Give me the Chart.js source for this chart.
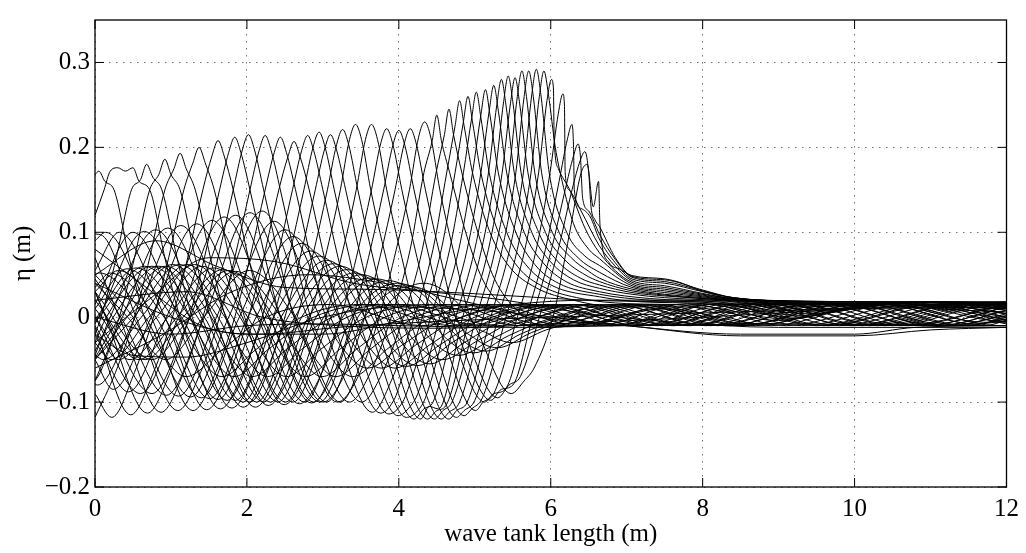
<!DOCTYPE html>
<html>
<head>
<meta charset="utf-8">
<script src="https://cdn.jsdelivr.net/npm/chart.js@4/dist/chart.umd.min.js"></script>
<style>
  html, body { margin: 0; padding: 0; background: #fff; }
  #wrap { width: 1026px; height: 553px; }
</style>
</head>
<body>
<div id="wrap"><canvas id="tank-chart" width="1026" height="553"></canvas></div>
<script>
// axis text
const xTitle = 'wave tank length (m)';
const yTitle = '\u03B7 (m)';
const xTicks = [0, 2, 4, 6, 8, 10, 12];
const yTicks = [-0.2, -0.1, 0, 0.1, 0.2, 0.3];

// surface profiles [x (m), eta (m)], one per snapshot
const shoalingProfiles = [
  [[0,.168],[.05,.172],[.13,.16],[.25,.15],[.45,.07],[.65,0],[.9,-.045],[1.2,-.07],[1.65,-.04],[2.25,0],[3.1,.015],[4.3,-.01],[5.5,.014],[6.8,-.01],[8.2,.016],[9.6,-.01],[11,.015],[12,.004]],
  [[0,.12],[.12,.15],[.2,.172],[.3,.176],[.4,.172],[.5,.176],[.58,.16],[.72,.15],[.92,.07],[1.12,0],[1.37,-.045],[1.67,-.07],[2.12,-.038],[2.72,0],[3.5,.015],[4.7,-.01],[5.9,.014],[7.2,-.01],[8.6,.016],[10,-.01],[11.4,.015],[12,.01]],
  [[0,-.02],[.08,0],[.28,.07],[.48,.15],[.6,.162],[.68,.18],[.76,.165],[.88,.15],[1.08,.07],[1.28,0],[1.53,-.045],[1.83,-.07],[2.28,-.038],[2.88,0],[3.7,.015],[4.9,-.01],[6.1,.014],[7.4,-.01],[8.8,.016],[10.2,-.01],[11.6,.015],[12,.012]],
  [[0,-.075],[.07,-.065],[.32,0],[.52,.07],[.72,.15],[.84,.168],[.92,.186],[1,.168],[1.12,.15],[1.32,.07],[1.52,0],[1.77,-.045],[2.07,-.07],[2.52,-.038],[3.12,0],[3.9,.015],[5.1,-.01],[6.3,.015],[7.6,-.01],[9,.016],[10.4,-.01],[11.8,.015],[12,.014]],
  [[0,-.118],[.27,-.065],[.52,0],[.72,.07],[.92,.15],[1.04,.175],[1.12,.193],[1.2,.175],[1.32,.15],[1.52,.07],[1.72,0],[1.97,-.045],[2.27,-.07],[2.72,-.038],[3.32,0],[4.1,.015],[5.3,-.01],[6.5,.015],[7.8,-.01],[9.2,.016],[10.6,-.01],[12,.015]],
  [[0,-.09],[.22,-.118],[.52,-.065],[.77,0],[.97,.07],[1.17,.15],[1.29,.182],[1.37,.2],[1.45,.182],[1.57,.15],[1.77,.07],[1.97,0],[2.22,-.045],[2.52,-.07],[2.97,-.038],[3.57,0],[4.4,.015],[5.6,-.01],[6.8,.015],[8.1,-.01],[9.5,.016],[10.9,-.01],[12,.012]],
  [[0,-.012],[.47,-.115],[.77,-.065],[1.02,0],[1.22,.07],[1.42,.15],[1.54,.19],[1.62,.208],[1.7,.19],[1.82,.15],[2.02,.07],[2.22,0],[2.47,-.045],[2.77,-.07],[3.22,-.038],[3.82,0],[4.6,.015],[5.8,-.01],[7,.015],[8.3,-.01],[9.7,.016],[11.1,-.01],[12,.008]],
  [[0,.03],[.14,0],[.69,-.113],[.99,-.065],[1.24,0],[1.44,.07],[1.64,.15],[1.76,.194],[1.84,.212],[1.92,.194],[2.04,.15],[2.24,.07],[2.44,0],[2.69,-.045],[2.99,-.07],[3.44,-.038],[4.04,0],[4.8,.015],[6,-.01],[7.2,.015],[8.5,-.01],[9.9,.016],[11.3,-.01],[12,.004]],
  [[0,.07],[.32,0],[.87,-.112],[1.17,-.065],[1.42,0],[1.62,.07],[1.82,.15],[1.94,.197],[2.02,.215],[2.1,.197],[2.22,.15],[2.42,.07],[2.62,0],[2.87,-.045],[3.17,-.07],[3.62,-.038],[4.22,0],[5,.015],[6.2,-.01],[7.4,.015],[8.7,-.01],[10.1,.016],[11.5,-.01],[12,0]],
  [[0,.098],[.1,.096],[.54,0],[1.09,-.11],[1.39,-.065],[1.64,0],[1.84,.07],[2.04,.15],[2.16,.196],[2.24,.214],[2.32,.196],[2.44,.15],[2.64,.07],[2.84,0],[3.09,-.045],[3.39,-.07],[3.84,-.038],[4.44,0],[5.2,.015],[6.4,-.01],[7.6,.015],[8.9,-.01],[10.3,.016],[11.7,-.01],[12,-.004]],
  [[0,.09],[.14,.1],[.74,0],[1.29,-.11],[1.59,-.065],[1.84,0],[2.04,.07],[2.24,.15],[2.36,.194],[2.44,.212],[2.52,.194],[2.64,.15],[2.84,.07],[3.04,0],[3.29,-.04],[3.59,-.06],[4.04,-.033],[4.64,0],[5.4,.015],[6.6,-.01],[7.8,.016],[9.1,-.01],[10.5,.015],[11.9,-.01],[12,-.01]],
  [[0,.055],[.32,.1],[.92,0],[1.47,-.109],[1.77,-.065],[2.02,0],[2.22,.07],[2.42,.15],[2.54,.189],[2.62,.207],[2.7,.189],[2.82,.15],[3.02,.07],[3.22,0],[3.47,-.04],[3.77,-.06],[4.22,-.033],[4.82,0],[5.6,.015],[6.8,-.01],[8,.016],[9.3,-.01],[10.7,.015],[12,-.008]],
  [[0,.015],[.5,.1],[1.1,0],[1.65,-.108],[1.95,-.065],[2.2,0],[2.4,.07],[2.6,.15],[2.72,.196],[2.8,.214],[2.88,.196],[3,.15],[3.2,.07],[3.4,0],[3.65,-.04],[3.95,-.06],[4.4,-.033],[5,0],[5.8,.015],[7,-.01],[8.2,.016],[9.5,-.01],[10.9,.015],[12,-.006]],
  [[0,-.008],[.05,0],[.65,.101],[1.25,0],[1.8,-.107],[2.1,-.065],[2.35,0],[2.55,.07],[2.75,.15],[2.87,.2],[2.95,.218],[3.03,.2],[3.15,.15],[3.35,.07],[3.55,0],[3.8,-.04],[4.1,-.058],[4.55,-.032],[5.15,0],[5.95,.015],[7.15,-.01],[8.35,.016],[9.65,-.01],[11.05,.015],[12,-.004]],
  [[0,-.045],[.2,0],[.8,.103],[1.4,0],[1.95,-.106],[2.25,-.065],[2.5,0],[2.7,.07],[2.9,.15],[3.02,.197],[3.1,.215],[3.18,.197],[3.3,.15],[3.5,.07],[3.7,0],[3.95,-.04],[4.25,-.057],[4.7,-.03],[5.3,0],[6.1,.015],[7.3,-.01],[8.5,.016],[9.8,-.01],[11.2,.015],[12,0]],
  [[0,-.075],[.36,0],[.96,.105],[1.56,0],[2.11,-.106],[2.41,-.065],[2.66,0],[2.86,.07],[3.06,.15],[3.18,.203],[3.26,.221],[3.34,.203],[3.46,.15],[3.66,.07],[3.86,0],[4.11,-.038],[4.41,-.055],[4.86,-.03],[5.46,0],[6.26,.015],[7.46,-.01],[8.66,.016],[9.96,-.01],[11.36,.015],[12,.004]],
  [[0,-.078],[.03,-.08],[.53,0],[1.13,.108],[1.73,0],[2.28,-.104],[2.58,-.065],[2.83,0],[3.03,.07],[3.23,.15],[3.35,.209],[3.43,.227],[3.51,.209],[3.63,.15],[3.83,.07],[4.03,0],[4.28,-.035],[4.58,-.05],[5.03,-.028],[5.63,0],[6.43,.015],[7.63,-.01],[8.83,.016],[10.1,-.01],[11.5,.015],[12,.008]],
  [[0,-.05],[.24,-.085],[.74,0],[1.34,.11],[1.94,0],[2.49,-.103],[2.79,-.065],[3.04,0],[3.24,.07],[3.44,.15],[3.56,.209],[3.64,.227],[3.72,.209],[3.84,.15],[4.04,.07],[4.24,0],[4.49,-.032],[4.79,-.045],[5.24,-.025],[5.84,0],[6.64,.015],[7.84,-.01],[9.04,.016],[10.3,-.01],[11.7,.015],[12,.01]],
  [[0,-.02],[.44,-.088],[.94,0],[1.54,.114],[2.14,0],[2.69,-.102],[2.99,-.065],[3.24,0],[3.44,.07],[3.64,.15],[3.76,.204],[3.84,.222],[3.92,.204],[4.04,.15],[4.24,.07],[4.44,0],[4.69,-.03],[4.99,-.042],[5.44,-.022],[6.04,0],[6.84,.015],[8.04,-.01],[9.24,.016],[10.5,-.01],[11.9,.015],[12,.014]],
  [[0,0],[.6,-.09],[1.1,0],[1.7,.118],[2.3,0],[2.85,-.101],[3.15,-.065],[3.4,0],[3.6,.07],[3.8,.15],[3.92,.202],[4,.22],[4.08,.202],[4.2,.15],[4.4,.07],[4.6,0],[4.85,-.028],[5.15,-.04],[5.6,-.02],[6.2,0],[7,.015],[8.2,-.01],[9.4,.016],[10.7,-.01],[12,.016]],
  [[0,.03],[.15,0],[.75,-.09],[1.25,0],[1.85,.12],[2.45,0],[3,-.1],[3.3,-.065],[3.55,0],[3.75,.07],[3.95,.15],[4.07,.204],[4.15,.222],[4.23,.204],[4.35,.15],[4.55,.07],[4.75,0],[5,-.025],[5.3,-.036],[5.75,-.018],[6.35,0],[7.15,.015],[8.35,-.01],[9.55,.016],[10.9,-.01],[12,.012]],
  [[0,.045],[.34,0],[.94,-.092],[1.44,0],[2.04,.123],[2.64,0],[3.19,-.1],[3.49,-.065],[3.74,0],[3.94,.07],[4.14,.15],[4.26,.212],[4.34,.23],[4.42,.212],[4.54,.15],[4.74,.07],[4.94,0],[5.19,-.02],[5.49,-.03],[5.94,-.015],[6.54,0],[7.34,.015],[8.54,-.01],[9.74,.016],[11.1,-.01],[12,.008]],
  [[0,.05],[.5,0],[1.1,-.093],[1.6,0],[2.2,.125],[2.8,0],[3.35,-.1],[3.6,-.07],[3.9,0],[4.15,.08],[4.33,.17],[4.44,.208],[4.5,.238],[4.56,.208],[4.67,.17],[4.88,.1],[5.1,.045],[5.4,.01],[5.8,-.012],[6.5,-.008],[7.4,.01],[8.6,-.008],[9.9,.016],[11.2,-.01],[12,.002]],
  [[0,.05],[.06,.052],[.66,0],[1.26,-.094],[1.76,0],[2.36,.113],[2.96,0],[3.51,-.1],[3.76,-.07],[4.06,0],[4.31,.08],[4.49,.17],[4.6,.215],[4.66,.245],[4.72,.215],[4.83,.17],[5.04,.1],[5.26,.045],[5.56,.008],[5.96,-.012],[6.6,-.006],[7.5,.01],[8.8,-.008],[10.1,.016],[11.4,-.01],[12,-.002]],
  [[0,.035],[.2,.052],[.8,0],[1.4,-.095],[1.9,0],[2.5,.103],[3.1,0],[3.65,-.112],[3.9,-.075],[4.2,0],[4.45,.08],[4.63,.17],[4.74,.225],[4.8,.255],[4.86,.225],[4.97,.17],[5.2,.1],[5.45,.06],[5.8,.035],[6.3,.02],[6.9,.012],[7.8,.012],[9,-.004],[10.3,.016],[11.6,-.008],[12,-.004]],
  [[0,.03],[.31,.055],[.91,0],[1.51,-.096],[2.01,0],[2.61,.095],[3.21,0],[3.76,-.113],[3.95,-.095],[4.01,-.08],[4.31,0],[4.56,.08],[4.74,.17],[4.85,.23],[4.91,.26],[4.97,.23],[5.08,.17],[5.31,.1],[5.56,.06],[5.9,.036],[6.4,.022],[7,.016],[7.9,.014],[9.1,-.002],[10.4,.016],[11.7,-.006],[12,-.006]],
  [[0,.01],[.42,.057],[1.02,0],[1.62,-.097],[2.12,0],[2.72,.087],[3.32,0],[3.87,-.114],[4.05,-.1],[4.12,-.085],[4.42,0],[4.67,.08],[4.85,.17],[4.96,.235],[5.02,.265],[5.08,.235],[5.19,.17],[5.42,.1],[5.67,.062],[6,.038],[6.64,.024],[7.2,.018],[8,.016],[9.2,0],[10.5,.017],[11.8,-.004],[12,-.005]],
  [[0,-.003],[.54,.058],[1.14,0],[1.74,-.098],[2.24,0],[2.84,.078],[3.44,0],[3.99,-.116],[4.15,-.105],[4.25,-.09],[4.54,0],[4.79,.08],[4.97,.17],[5.08,.238],[5.14,.268],[5.2,.238],[5.31,.17],[5.54,.1],[5.79,.062],[6.1,.04],[6.64,.027],[7.3,.02],[8.1,.017],[9.3,.002],[10.6,.017],[12,-.003]],
  [[0,-.005],[.05,0],[.65,.06],[1.25,0],[1.85,-.098],[2.35,0],[2.95,.072],[3.55,0],[4.1,-.118],[4.25,-.11],[4.35,-.095],[4.65,0],[4.9,.08],[5.08,.17],[5.19,.243],[5.25,.273],[5.31,.243],[5.42,.17],[5.65,.1],[5.9,.064],[6.2,.042],[6.64,.03],[7.3,.022],[8.2,.018],[9.4,.004],[10.7,.017],[12,0]],
  [[0,-.03],[.15,0],[.75,.06],[1.35,0],[1.95,-.1],[2.45,0],[3.05,.067],[3.65,0],[4.2,-.12],[4.33,-.108],[4.45,-.1],[4.75,0],[5,.08],[5.18,.17],[5.29,.25],[5.35,.28],[5.41,.25],[5.52,.17],[5.75,.1],[6,.065],[6.3,.044],[6.64,.034],[7.07,.027],[7.5,.023],[8.3,.019],[9.5,.006],[10.8,.018],[12,.004]],
  [[0,-.04],[.24,0],[.84,.06],[1.44,0],[2.04,-.1],[2.54,0],[3.14,.063],[3.74,0],[4.29,-.12],[4.4,-.105],[4.52,-.108],[4.84,0],[5.09,.08],[5.27,.17],[5.38,.254],[5.44,.284],[5.5,.254],[5.61,.17],[5.84,.1],[6.09,.066],[6.39,.046],[6.64,.038],[7.07,.029],[7.5,.025],[8.3,.02],[9.6,.008],[10.9,.018],[12,.008]],
  [[0,-.048],[.33,0],[.93,.06],[1.53,0],[2.13,-.1],[2.63,0],[3.23,.06],[3.83,0],[4.38,-.12],[4.5,-.11],[4.62,-.104],[4.93,0],[5.18,.08],[5.36,.17],[5.47,.252],[5.53,.282],[5.59,.252],[5.7,.17],[5.93,.1],[6.18,.068],[6.45,.05],[6.64,.042],[7.07,.031],[7.5,.026],[8,.022],[8.4,.02],[9.7,.01],[11,.018],[12,.01]],
  [[0,-.05],[.42,0],[1.02,.062],[1.62,0],[2.22,-.1],[2.72,0],[3.32,.056],[3.92,0],[4.47,-.12],[4.58,-.11],[4.7,-.1],[5.02,0],[5.27,.08],[5.45,.17],[5.56,.26],[5.62,.29],[5.68,.26],[5.79,.17],[6.02,.1],[6.27,.07],[6.5,.054],[6.64,.046],[7.07,.033],[7.5,.027],[8,.023],[8.4,.02],[9.8,.012],[11.1,.018],[12,.012]],
  [[0,-.05],[.51,0],[1.11,.062],[1.71,0],[2.31,-.1],[2.81,0],[3.41,.052],[4.01,0],[4.56,-.12],[4.66,-.112],[4.8,-.1],[5.11,0],[5.36,.08],[5.54,.17],[5.65,.26],[5.71,.29],[5.77,.26],[5.88,.17],[6.11,.1],[6.36,.07],[6.64,.053],[7.07,.035],[7.5,.029],[8,.024],[8.4,.02],[9.9,.014],[11.2,.018],[12,.014]],
  [[0,-.045],[.11,-.05],[.61,0],[1.21,.062],[1.81,0],[2.41,-.1],[2.91,0],[3.51,.05],[4.11,0],[4.66,-.12],[4.76,-.11],[4.9,-.1],[5.21,0],[5.46,.08],[5.64,.17],[5.75,.262],[5.81,.292],[5.87,.262],[5.98,.17],[6.21,.1],[6.45,.072],[6.64,.061],[7.07,.037],[7.5,.031],[8,.025],[8.4,.021],[10,.016],[11.3,.018],[12,.016]],
  [[0,-.03],[.21,-.05],[.71,0],[1.31,.062],[1.91,0],[2.51,-.1],[3.01,0],[3.61,.046],[4.21,0],[4.76,-.118],[4.86,-.11],[5,-.098],[5.31,0],[5.56,.08],[5.74,.17],[5.85,.26],[5.91,.29],[5.97,.262],[6.06,.2],[6.15,.16],[6.3,.11],[6.5,.08],[6.64,.069],[7.07,.039],[7.5,.033],[8,.026],[8.4,.021],[10.1,.018],[12,.018]]
];

// profiles once the crest has broken (steep front, long bore tail)
const breakingProfiles = [
  [[0,-.01],[.31,-.05],[.81,0],[1.41,.06],[2.01,0],[2.61,-.1],[3.11,0],[3.71,.045],[4.31,0],[4.86,-.116],[4.96,-.108],[5.1,-.095],[5.41,0],[5.66,.08],[5.84,.17],[5.95,.255],[6.01,.28],[6.035,.27],[6.045,.21],[6.1,.175],[6.25,.15],[6.45,.105],[6.64,.076],[7.07,.041],[7.5,.035],[8,.027],[8.4,.022],[10.2,.018],[12,.018]],
  [[0,0],[.46,-.05],[.96,0],[1.56,.058],[2.16,0],[2.76,-.1],[3.26,0],[3.86,.043],[4.46,0],[5.01,-.11],[5.11,-.1],[5.25,-.09],[5.56,0],[5.81,.08],[5.99,.17],[6.1,.24],[6.16,.263],[6.18,.25],[6.19,.17],[6.24,.15],[6.4,.125],[6.64,.084],[6.85,.06],[7.07,.043],[7.5,.037],[8,.028],[8.4,.022],[10.3,.018],[12,.016]],
  [[0,.01],[.58,-.05],[1.08,0],[1.68,.056],[2.28,0],[2.88,-.1],[3.38,0],[3.98,.04],[4.58,0],[5.13,-.1],[5.25,-.09],[5.4,-.085],[5.68,0],[5.93,.08],[6.11,.16],[6.22,.21],[6.28,.227],[6.3,.2],[6.31,.15],[6.4,.128],[6.52,.118],[6.64,.092],[6.85,.064],[7.07,.045],[7.5,.04],[8,.03],[8.4,.023],[10.4,.016],[12,.014]],
  [[0,.02],[.66,-.05],[1.16,0],[1.76,.055],[2.36,0],[2.96,-.1],[3.46,0],[4.06,.038],[4.66,0],[5.21,-.098],[5.35,-.085],[5.5,-.08],[5.76,0],[6.01,.08],[6.19,.15],[6.3,.19],[6.36,.204],[6.39,.19],[6.42,.14],[6.5,.125],[6.64,.098],[6.85,.068],[7.07,.047],[7.5,.042],[8,.031],[8.4,.023],[10.5,.014],[12,.01]],
  [[0,.03],[.75,-.05],[1.25,0],[1.85,.054],[2.45,0],[3.05,-.1],[3.55,0],[4.15,.036],[4.75,0],[5.3,-.095],[5.45,-.08],[5.6,-.07],[5.85,0],[6.1,.08],[6.28,.15],[6.39,.185],[6.45,.195],[6.5,.17],[6.53,.13],[6.58,.115],[6.64,.107],[6.85,.07],[7.07,.048],[7.5,.044],[8,.032],[8.4,.023],[10.6,.012],[12,.006]],
  [[0,.04],[.43,0],[.93,-.05],[1.43,0],[2.03,.055],[2.63,0],[3.23,-.1],[3.73,0],[4.33,.04],[4.93,0],[5.48,-.09],[5.65,-.075],[5.78,-.06],[6.03,0],[6.25,.1],[6.4,.17],[6.48,.18],[6.56,.13],[6.63,.16],[6.645,.115],[6.66,.095],[6.77,.064],[6.9,.057],[7.07,.049],[7.51,.045],[7.73,.04],[7.95,.032],[8.18,.026],[8.28,.023],[10,.018],[12,.017]]
];

// low, long-period snapshots that fill the band round still water
const calmProfiles = [
  [[0,-.02],[.5,-.045],[1.2,-.047],[2,-.03],[3,0],[4,.012],[5.5,.005],[7,-.01],[8.5,-.02],[10,-.02],[10.8,-.012],[12,-.01]],
  [[0,.08],[.6,.04],[1.4,-.01],[2.2,-.02],[3.2,-.012],[4.5,-.005],[6,0],[8,.005],[10,.01],[12,.012]],
  [[0,.05],[.8,.09],[1.6,.06],[2.5,.035],[3.5,.033],[4.5,.03],[5.5,.025],[6.5,.02],[8,.018],[10,.018],[12,.017]],
  [[0,-.03],[.7,.02],[1.5,.07],[2.4,.065],[3.4,.04],[4.4,.03],[5.4,.02],[6.4,.005],[7.5,-.005],[9,-.012],[12,-.012]],
  [[0,0],[1,-.02],[2,-.01],[3,-.008],[4,-.01],[5.5,-.012],[7,-.01],[9,-.008],[12,-.01]],
  [[0,.02],[1.2,.03],[2.2,0],[3.2,-.01],[4.5,-.013],[6,-.008],[8,0],[10,.01],[12,.018]],
  [[0,-.06],[.9,-.02],[1.8,.03],[2.8,.05],[3.8,.04],[4.8,.02],[5.8,0],[7,-.01],[8.5,-.022],[10,-.022],[11,-.015],[12,-.012]],
  [[0,.04],[1,0],[2,-.02],[3,-.02],[4,-.005],[5,.01],[6.5,.02],[8,.02],[10,.018],[12,.015]]
];

const serif = "'Liberation Serif', 'Times New Roman', serif";

function profileSet(profile) {
    return {
        data: profile,
        borderColor: '#000',
        borderWidth: 1,
        pointRadius: 0,
        fill: false,
        cubicInterpolationMode: 'monotone'
    };
}

function tickLabel(v) {
    if (v === 0) return '0';
    return (v < 0 ? '\u2212' : '') + Math.abs(v).toFixed(1);
}

// matlab style frame: full box plus inward tick marks on all four sides
const framePlugin = {
    id: 'frame',
    afterDraw: function (chart) {
        const ctx = chart.ctx;
        const a = chart.chartArea;
        const xs = chart.scales.x;
        const ys = chart.scales.y;
        ctx.save();
        ctx.strokeStyle = '#000';
        ctx.lineWidth = 1.3;
        ctx.strokeRect(a.left, a.top, a.right - a.left, a.bottom - a.top);
        ctx.lineWidth = 1;
        ctx.beginPath();
        xTicks.forEach(function (v) {
            const px = xs.getPixelForValue(v);
            ctx.moveTo(px, a.bottom); ctx.lineTo(px, a.bottom - 9);
            ctx.moveTo(px, a.top); ctx.lineTo(px, a.top + 9);
        });
        yTicks.forEach(function (v) {
            const py = ys.getPixelForValue(v);
            ctx.moveTo(a.left, py); ctx.lineTo(a.left + 9, py);
            ctx.moveTo(a.right, py); ctx.lineTo(a.right - 9, py);
        });
        ctx.stroke();
        ctx.restore();
    }
};

const datasets = shoalingProfiles.map(profileSet)
    .concat(breakingProfiles.map(profileSet))
    .concat(calmProfiles.map(profileSet));

new Chart(document.getElementById('tank-chart'), {
    type: 'scatter',
    data: { datasets: datasets },
    options: {
        responsive: false,
        devicePixelRatio: 1,
        animation: false,
        showLine: true,
        layout: { padding: { left: 0, right: 19, top: 7, bottom: 0 } },
        plugins: {
            legend: { display: false },
            tooltip: { enabled: false }
        },
        scales: {
            x: {
                type: 'linear',
                min: 0,
                max: 12,
                afterBuildTicks: function (scale) {
                    scale.ticks = xTicks.map(function (v) { return { value: v }; });
                },
                afterFit: function (scale) { scale.height = 66; },
                ticks: {
                    color: '#000',
                    font: { family: serif, size: 25 },
                    padding: 7,
                    maxRotation: 0,
                    autoSkip: false,
                    callback: function (v) { return String(v); }
                },
                grid: { color: 'rgba(0,0,0,0.55)', lineWidth: 1, drawTicks: false },
                border: { display: false, dash: [1.5, 5.5] },
                title: {
                    display: true,
                    text: xTitle,
                    color: '#000',
                    font: { family: serif, size: 25 },
                    padding: { top: 0, bottom: 4 }
                }
            },
            y: {
                type: 'linear',
                min: -0.2,
                max: 0.35,
                afterBuildTicks: function (scale) {
                    scale.ticks = yTicks.map(function (v) { return { value: v }; });
                },
                afterFit: function (scale) { scale.width = 95; },
                ticks: {
                    color: '#000',
                    font: { family: serif, size: 25 },
                    padding: 5,
                    autoSkip: false,
                    callback: tickLabel
                },
                grid: { color: 'rgba(0,0,0,0.55)', lineWidth: 1, drawTicks: false },
                border: { display: false, dash: [1.5, 5.5] },
                title: {
                    display: true,
                    text: yTitle,
                    color: '#000',
                    font: { family: serif, size: 25 },
                    padding: { top: 8, bottom: 0 }
                }
            }
        }
    },
    plugins: [framePlugin]
});
</script>
</body>
</html>
